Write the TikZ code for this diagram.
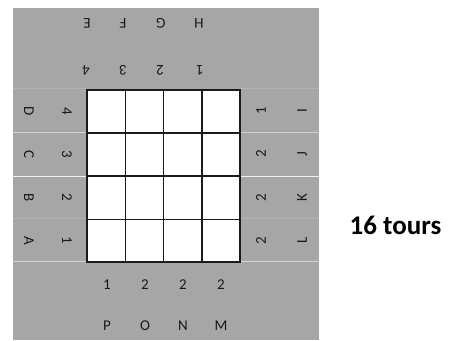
\documentclass[tikz,border=0pt]{standalone}
\usepackage{fontspec}
\setmainfont{Carlito}
\definecolor{panel}{HTML}{A6A6A6}
\definecolor{sepA}{HTML}{BDBDBD}
\definecolor{sepB}{HTML}{D2D2D2}
\definecolor{sepC}{HTML}{F0F0F0}
\definecolor{ink}{HTML}{1A1A1A}
\begin{document}
\begin{tikzpicture}[x=1pt,y=-1pt,
  lab/.style={font=\fontsize{15}{15}\selectfont, text=ink, inner sep=0pt},
  sep/.style={line width=1pt},
  gridline/.style={line width=1.3pt, draw=ink}]
\useasboundingbox (0,0) rectangle (449,340);
\fill[panel] (13,8) rectangle (319,340);
% separator lines in side strips
\foreach \y/\c/\d in {88.5/sepA/densely dotted,132.5/sepB/solid,176/sepC/solid,218.5/sepA/densely dotted,261/sepB/solid}{
  \draw[sep,\c,\d] (13,\y) -- (87,\y);
  \draw[sep,\c,\d] (241,\y) -- (319,\y);
}
% grid
\fill[white] (87.3,89.7) rectangle (240.3,262.3);
\foreach \i in {0,...,4}{
  \draw[gridline] ({87.3+38.25*\i},89.7) -- ({87.3+38.25*\i},262.3);
  \draw[gridline] (87.3,{89.7+43.15*\i}) -- (240.3,{89.7+43.15*\i});
}
\draw[line width=1.8pt, draw=ink] (87.3,89.7) rectangle (240.3,262.3);
% top labels (upside down)
\foreach \t/\x in {E/87,F/123,G/161,H/199}
  \node[lab,rotate=180] (top\t) at (\x,23) {\t};
\foreach \t/\x/\n in {4/86/a,3/123/b,2/160/c,1/200/d}
  \node[lab,rotate=180] (topn\n) at (\x,70) {\t};
% left labels
\foreach \t/\y in {D/111,C/154,B/197.5,A/240.6}
  \node[lab,rotate=-90] (left\t) at (29,\y) {\t};
\foreach \t/\y/\n in {4/111/a,3/154/b,2/197.5/c,1/240.6/d}
  \node[lab,rotate=-90] (leftn\n) at (67,\y) {\t};
% right labels
\foreach \t/\y/\n in {1/111/a,2/154/b,2/197.5/c,2/240.6/d}
  \node[lab,rotate=90] (rightn\n) at (261,\y) {\t};
\foreach \t/\y in {I/111,J/154,K/197.5,L/240.6}
  \node[lab,rotate=90] (right\t) at (302,\y) {\t};
% bottom labels
\foreach \t/\x/\n in {1/107/a,2/145/b,2/183/c,2/221/d}
  \node[lab] (botn\n) at (\x,285) {\t};
\foreach \t/\x in {P/107,O/145,N/183,M/221}
  \node[lab] (bot\t) at (\x,326) {\t};
% result
\node[font=\fontsize{27}{27}\selectfont\bfseries, text=black, inner sep=0pt] (result) at (395.5,225) {16 tours};
\end{tikzpicture}
\end{document}
